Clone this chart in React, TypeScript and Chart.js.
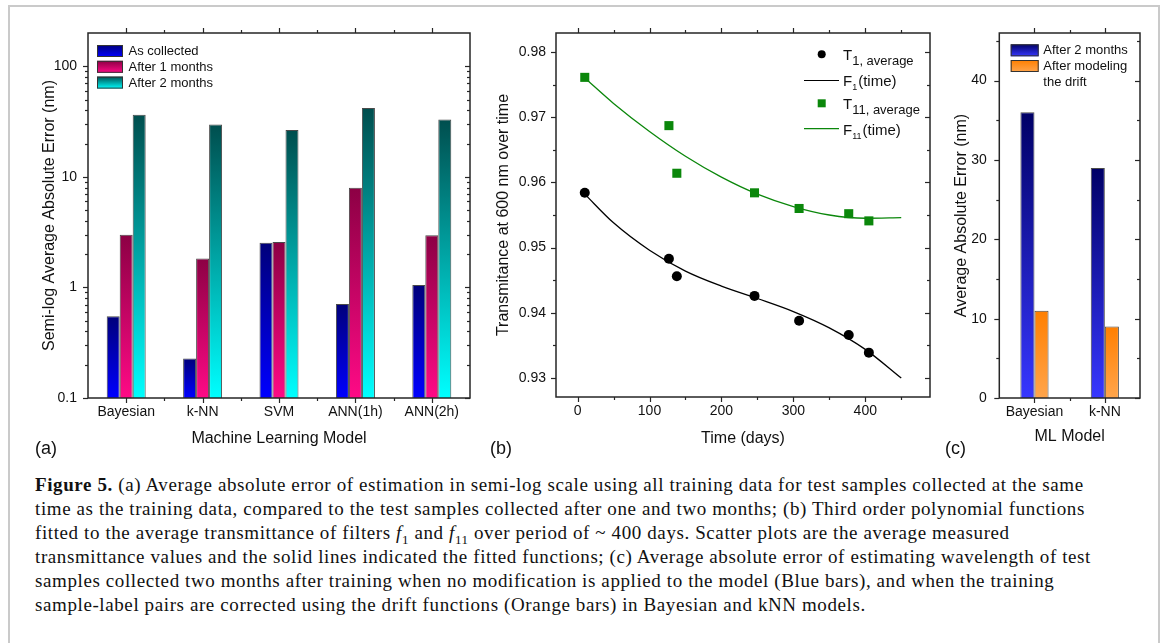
import React, { useEffect, useRef } from 'react';
import { Chart, registerables } from 'chart.js';

Chart.register(...registerables);

const SANS = '"Liberation Sans", Arial, sans-serif';
const SERIF = '"Liberation Serif", "Times New Roman", serif';
const INK = '#111111';
const AXIS = '#262626';

// ---------------- Panel (a) ----------------
const A_MODELS = ['Bayesian', 'k-NN', 'SVM', 'ANN(1h)', 'ANN(2h)'];
const A_SERIES = ['As collected', 'After 1 months', 'After 2 months'];
const A_AS_COLLECTED = [0.55, 0.228, 2.53, 0.71, 1.05];
const A_AFTER_1_MONTH = [3.0, 1.83, 2.58, 7.95, 2.97];
const A_AFTER_2_MONTHS = [36.5, 29.8, 26.6, 42.0, 33.0];
const A_Y_TICKS = [0.1, 1, 10, 100];
const A_Y_MINOR = [0.2, 0.3, 0.4, 0.5, 0.6, 0.7, 0.8, 0.9, 2, 3, 4, 5, 6, 7, 8, 9, 20, 30, 40, 50, 60, 70, 80, 90];
const A_X_MINOR = [0.5, 1.5, 2.5, 3.5];

// ---------------- Panel (b) ----------------
const B_SAMPLE_DAYS = [10, 127, 138, 246, 308, 377, 405];
const B_T1_AVERAGE = [0.9584, 0.9483, 0.9456, 0.9426, 0.9388, 0.9366, 0.9339];
const B_T11_AVERAGE = [0.9761, 0.9687, 0.9614, 0.9584, 0.956, 0.9552, 0.9541];
const B_FIT_DAYS = [10, 50, 100, 150, 200, 250, 300, 350, 400, 450];
const B_F1_FIT = [0.9582, 0.9538, 0.9496, 0.9464, 0.9441, 0.9422, 0.9402, 0.9377, 0.9344, 0.93];
const B_F11_FIT = [0.976, 0.9721, 0.9678, 0.964, 0.9608, 0.9582, 0.9563, 0.955, 0.9545, 0.9546];
const B_X_TICKS = [0, 100, 200, 300, 400];
const B_X_MINOR = [50, 150, 250, 350, 450];
const B_Y_TICKS = [0.93, 0.94, 0.95, 0.96, 0.97, 0.98];
const B_Y_MINOR = [0.935, 0.945, 0.955, 0.965, 0.975];

// ---------------- Panel (c) ----------------
const C_MODELS = ['Bayesian', 'k-NN'];
const C_AFTER_2_MONTHS = [36, 29];
const C_AFTER_DRIFT = [11, 9];
const C_Y_TICKS = [0, 10, 20, 30, 40];
const C_Y_MINOR = [5, 15, 25, 35, 45];
const C_X_MINOR = [0.5];

function barGradient(bottom: string, top: string) {
  return (ctx: any) => {
    const chart = ctx.chart;
    const area = chart.chartArea;
    if (!area || ctx.type !== 'data') return top;
    const yTop = chart.scales.y.getPixelForValue(ctx.raw);
    if (!isFinite(yTop) || Math.abs(area.bottom - yTop) < 1) return top;
    const g = chart.ctx.createLinearGradient(0, area.bottom, 0, yTop);
    g.addColorStop(0, bottom);
    g.addColorStop(1, top);
    return g;
  };
}

function makeFrame(cfg: { xMajor: number[]; xMinor: number[]; yMajor: number[]; yMinor: number[] }) {
  return {
    id: 'frame',
    afterDraw(chart: any) {
      const { ctx, chartArea: a, scales } = chart;
      const xs = scales.x;
      const ys = scales.y;
      const seg = (x1: number, y1: number, x2: number, y2: number) => {
        ctx.beginPath();
        ctx.moveTo(x1, y1);
        ctx.lineTo(x2, y2);
        ctx.stroke();
      };
      ctx.save();
      ctx.strokeStyle = AXIS;
      ctx.lineWidth = 1.2;
      const xTick = (v: number, len: number) => {
        const p = Math.round(xs.getPixelForValue(v)) + 0.5;
        seg(p, a.bottom, p, a.bottom + len);
        seg(p, a.top, p, a.top - len);
      };
      const yTick = (v: number, len: number) => {
        const p = Math.round(ys.getPixelForValue(v)) + 0.5;
        seg(a.left, p, a.left - len, p);
        seg(a.right, p, a.right - len, p);
      };
      cfg.xMajor.forEach((v) => xTick(v, 5));
      cfg.xMinor.forEach((v) => xTick(v, 3));
      cfg.yMajor.forEach((v) => yTick(v, 5));
      cfg.yMinor.forEach((v) => yTick(v, 3));
      ctx.lineWidth = 1.5;
      ctx.strokeRect(a.left, a.top, a.right - a.left, a.bottom - a.top);
      ctx.restore();
    },
  };
}

function gradientBox(ctx: any, x: number, y: number, w: number, h: number, bottom: string, top: string) {
  const g = ctx.createLinearGradient(0, y + h, 0, y);
  g.addColorStop(0, bottom);
  g.addColorStop(1, top);
  ctx.fillStyle = g;
  ctx.fillRect(x, y, w, h);
  ctx.strokeStyle = '#333';
  ctx.lineWidth = 1;
  ctx.strokeRect(x + 0.5, y + 0.5, w - 1, h - 1);
}

const A_COLORS = [
  ['#0000ff', '#00007a'],
  ['#ff0a86', '#8c0044'],
  ['#00ffff', '#004e4e'],
];

const legendA = {
  id: 'legendA',
  afterDraw(chart: any) {
    const ctx = chart.ctx;
    ctx.save();
    ctx.font = `13px ${SANS}`;
    ctx.textBaseline = 'middle';
    A_SERIES.forEach((name, i) => {
      const y0 = 45 + i * 15.8;
      gradientBox(ctx, 97, y0, 26, 12, A_COLORS[i][0], A_COLORS[i][1]);
      ctx.fillStyle = INK;
      ctx.fillText(name, 128.5, y0 + 6.5);
    });
    ctx.restore();
  },
};

const NO_GRID = { display: false, drawTicks: false, tickLength: 0 };

function configA(): any {
  return {
    type: 'bar',
    data: {
      labels: A_MODELS,
      datasets: [A_AS_COLLECTED, A_AFTER_1_MONTH, A_AFTER_2_MONTHS].map((d, i) => ({
        label: A_SERIES[i],
        data: d,
        backgroundColor: barGradient(A_COLORS[i][0], A_COLORS[i][1]),
        borderColor: '#4a4a4a',
        borderWidth: 1,
      })),
    },
    options: {
      responsive: false,
      animation: false,
      layout: { padding: { left: 0, right: 10, top: 33, bottom: 0 } },
      datasets: { bar: { categoryPercentage: 0.51, barPercentage: 1 } },
      plugins: { legend: { display: false }, tooltip: { enabled: false } },
      scales: {
        x: {
          type: 'category',
          offset: true,
          grid: NO_GRID,
          border: { display: false },
          ticks: { font: { family: SANS, size: 14 }, color: INK, padding: 6, autoSkip: false, maxRotation: 0 },
          title: { display: true, text: 'Machine Learning Model', font: { family: SANS, size: 16 }, color: INK, padding: { top: 0, bottom: 12 } },
          afterFit: (s: any) => { s.height = 62; },
        },
        y: {
          type: 'logarithmic',
          min: 0.1,
          max: 200,
          grid: NO_GRID,
          border: { display: false },
          afterBuildTicks: (s: any) => { s.ticks = A_Y_TICKS.map((v) => ({ value: v })); },
          ticks: { font: { family: SANS, size: 14 }, color: INK, padding: 11, callback: (v: any) => String(v) },
          title: { display: true, text: 'Semi-log Average Absolute Error (nm)', font: { family: SANS, size: 16 }, color: INK, padding: { top: 40, bottom: 0 } },
          afterFit: (s: any) => { s.width = 88; },
        },
      },
    },
    plugins: [makeFrame({ xMajor: [0, 1, 2, 3, 4], xMinor: A_X_MINOR, yMajor: A_Y_TICKS, yMinor: A_Y_MINOR }), legendA],
  };
}

const GREEN = '#0b870b';

function drawSub(ctx: any, x: number, base: number, main: string, sub: string, rest: string, subSize: number, subDrop: number) {
  ctx.font = `15px ${SANS}`;
  ctx.fillText(main, x, base);
  let cx = x + ctx.measureText(main).width;
  ctx.font = `${subSize}px ${SANS}`;
  ctx.fillText(sub, cx, base + subDrop);
  cx += ctx.measureText(sub).width;
  if (rest) {
    ctx.font = `15px ${SANS}`;
    ctx.fillText(rest, cx + 1, base);
  }
}

const legendB = {
  id: 'legendB',
  afterDraw(chart: any) {
    const ctx = chart.ctx;
    ctx.save();
    ctx.textBaseline = 'alphabetic';
    ctx.fillStyle = '#000';
    ctx.beginPath();
    ctx.arc(341.7, 54.3, 4, 0, Math.PI * 2);
    ctx.fill();
    ctx.fillStyle = INK;
    drawSub(ctx, 363, 60, 'T', '1, average', '', 13, 5);
    ctx.strokeStyle = '#000';
    ctx.lineWidth = 1.2;
    ctx.beginPath();
    ctx.moveTo(324, 80.5);
    ctx.lineTo(359, 80.5);
    ctx.stroke();
    ctx.fillStyle = INK;
    drawSub(ctx, 363, 86, 'F', '1', '(time)', 9, 4);
    ctx.fillStyle = GREEN;
    ctx.fillRect(337.7, 99.3, 8, 8);
    ctx.fillStyle = INK;
    drawSub(ctx, 363, 109, 'T', '11, average', '', 13, 5);
    ctx.strokeStyle = GREEN;
    ctx.beginPath();
    ctx.moveTo(324, 128.7);
    ctx.lineTo(359, 128.7);
    ctx.stroke();
    ctx.fillStyle = INK;
    drawSub(ctx, 363, 134.5, 'F', '11', '(time)', 9, 4);
    ctx.restore();
  },
};

function configB(): any {
  const pts = (xs: number[], ys: number[]) => xs.map((x, i) => ({ x, y: ys[i] }));
  return {
    type: 'scatter',
    data: {
      datasets: [
        { label: 'T1, average', data: pts(B_SAMPLE_DAYS, B_T1_AVERAGE), pointStyle: 'circle', pointRadius: 5, backgroundColor: '#000', borderColor: '#000', borderWidth: 0, showLine: false, order: 0 },
        { label: 'T11, average', data: pts(B_SAMPLE_DAYS, B_T11_AVERAGE), pointStyle: 'rect', pointRadius: 6.4, backgroundColor: GREEN, borderColor: GREEN, borderWidth: 0, showLine: false, order: 0 },
        { label: 'F1(time)', data: pts(B_FIT_DAYS, B_F1_FIT), showLine: true, pointRadius: 0, borderColor: '#000', borderWidth: 1.3, cubicInterpolationMode: 'monotone', order: 1 },
        { label: 'F11(time)', data: pts(B_FIT_DAYS, B_F11_FIT), showLine: true, pointRadius: 0, borderColor: GREEN, borderWidth: 1.3, cubicInterpolationMode: 'monotone', order: 1 },
      ],
    },
    options: {
      responsive: false,
      animation: false,
      layout: { padding: { left: 0, right: 20, top: 33, bottom: 0 } },
      plugins: { legend: { display: false }, tooltip: { enabled: false } },
      scales: {
        x: {
          type: 'linear',
          min: -30,
          max: 490,
          grid: NO_GRID,
          border: { display: false },
          afterBuildTicks: (s: any) => { s.ticks = B_X_TICKS.map((v) => ({ value: v })); },
          ticks: { font: { family: SANS, size: 14 }, color: INK, padding: 6, maxRotation: 0, callback: (v: any) => String(v) },
          title: { display: true, text: 'Time (days)', font: { family: SANS, size: 16 }, color: INK, padding: { top: 0, bottom: 12 } },
          afterFit: (s: any) => { s.height = 63; },
        },
        y: {
          type: 'linear',
          min: 0.9271,
          max: 0.9829,
          grid: NO_GRID,
          border: { display: false },
          afterBuildTicks: (s: any) => { s.ticks = B_Y_TICKS.map((v) => ({ value: v })); },
          ticks: { font: { family: SANS, size: 14 }, color: INK, padding: 10, callback: (v: any) => Number(v).toFixed(2) },
          title: { display: true, text: 'Transmitance at 600 nm over time', font: { family: SANS, size: 16 }, color: INK, padding: { top: 14, bottom: 0 } },
          afterFit: (s: any) => { s.width = 76; },
        },
      },
    },
    plugins: [makeFrame({ xMajor: B_X_TICKS, xMinor: B_X_MINOR, yMajor: B_Y_TICKS, yMinor: B_Y_MINOR }), legendB],
  };
}

const C_COLORS = [
  ['#3737ff', '#000066'],
  ['#ffa54c', '#ff7f00'],
];

const legendC = {
  id: 'legendC',
  afterDraw(chart: any) {
    const ctx = chart.ctx;
    ctx.save();
    ctx.font = `13px ${SANS}`;
    ctx.textBaseline = 'middle';
    gradientBox(ctx, 70.7, 44.3, 28, 12, C_COLORS[0][0], C_COLORS[0][1]);
    gradientBox(ctx, 70.7, 60, 28, 12, C_COLORS[1][0], C_COLORS[1][1]);
    ctx.fillStyle = INK;
    ctx.fillText('After 2 months', 103.3, 50.5);
    ctx.fillText('After modeling', 103.3, 66.5);
    ctx.fillText('the drift', 103.3, 82.2);
    ctx.restore();
  },
};

function configC(): any {
  return {
    type: 'bar',
    data: {
      labels: C_MODELS,
      datasets: [
        { label: 'After 2 months', data: C_AFTER_2_MONTHS, backgroundColor: barGradient(C_COLORS[0][0], C_COLORS[0][1]), borderColor: '#4a4a4a', borderWidth: 1 },
        { label: 'After modeling the drift', data: C_AFTER_DRIFT, backgroundColor: barGradient(C_COLORS[1][0], C_COLORS[1][1]), borderColor: '#4a4a4a', borderWidth: 1 },
      ],
    },
    options: {
      responsive: false,
      animation: false,
      layout: { padding: { left: 0, right: 28, top: 33, bottom: 0 } },
      datasets: { bar: { categoryPercentage: 0.4, barPercentage: 1 } },
      plugins: { legend: { display: false }, tooltip: { enabled: false } },
      scales: {
        x: {
          type: 'category',
          offset: true,
          grid: NO_GRID,
          border: { display: false },
          ticks: { font: { family: SANS, size: 14 }, color: INK, padding: 6, autoSkip: false, maxRotation: 0 },
          title: { display: true, text: 'ML Model', font: { family: SANS, size: 16 }, color: INK, padding: { top: 0, bottom: 14 } },
          afterFit: (s: any) => { s.height = 62; },
        },
        y: {
          type: 'linear',
          min: 0,
          max: 46,
          grid: NO_GRID,
          border: { display: false },
          afterBuildTicks: (s: any) => { s.ticks = C_Y_TICKS.map((v) => ({ value: v })); },
          ticks: { font: { family: SANS, size: 14 }, color: INK, padding: 12.5, callback: (v: any) => String(v) },
          title: { display: true, text: 'Average Absolute Error (nm)', font: { family: SANS, size: 16 }, color: INK, padding: { top: 12, bottom: 0 } },
          afterFit: (s: any) => { s.width = 59.3; },
        },
      },
    },
    plugins: [makeFrame({ xMajor: [0, 1], xMinor: C_X_MINOR, yMajor: C_Y_TICKS, yMinor: C_Y_MINOR }), legendC],
  };
}

function ChartCanvas(props: { left: number; top: number; width: number; height: number; build: () => any }) {
  const ref = useRef<HTMLCanvasElement>(null);
  useEffect(() => {
    const chart = new Chart(ref.current as HTMLCanvasElement, props.build());
    return () => chart.destroy();
  }, []);
  return (
    <canvas
      ref={ref}
      width={props.width}
      height={props.height}
      style={{ position: 'absolute', left: props.left, top: props.top, width: props.width, height: props.height }}
    />
  );
}

const panelLabel = (left: number): React.CSSProperties => ({
  position: 'absolute',
  left,
  top: 438,
  fontFamily: SANS,
  fontSize: 18,
  lineHeight: '20px',
  color: INK,
});

const capLine: React.CSSProperties = { whiteSpace: 'nowrap', height: 24 };

export default function App() {
  return (
    <div style={{ position: 'absolute', left: 0, top: 0, width: 1168, height: 643, overflow: 'hidden', background: '#fff' }}>
      <div style={{ position: 'absolute', left: 8, top: 5, width: 1152, height: 700, border: '2px solid #cacaca', boxSizing: 'border-box' }} />
      <ChartCanvas left={0} top={0} width={480} height={460} build={configA} />
      <ChartCanvas left={480} top={0} width={470} height={460} build={configB} />
      <ChartCanvas left={940} top={0} width={228} height={460} build={configC} />
      <div style={panelLabel(35)}>(a)</div>
      <div style={panelLabel(490)}>(b)</div>
      <div style={panelLabel(945)}>(c)</div>
      <div style={{ position: 'absolute', left: 35, top: 473, fontFamily: SERIF, fontSize: 19, letterSpacing: '0.6px', lineHeight: '24px', color: INK }}>
        <div style={capLine}><b>Figure 5.</b> (a) Average absolute error of estimation in semi-log scale using all training data for test samples collected at the same</div>
        <div style={capLine}>time as the training data, compared to the test samples collected after one and two months; (b) Third order polynomial functions</div>
        <div style={capLine}>fitted to the average transmittance of filters <i>f</i><sub style={{ fontSize: 13 }}>1</sub> and <i>f</i><sub style={{ fontSize: 13 }}>11</sub> over period of ~ 400 days. Scatter plots are the average measured</div>
        <div style={capLine}>transmittance values and the solid lines indicated the fitted functions; (c) Average absolute error of estimating wavelength of test</div>
        <div style={capLine}>samples collected two months after training when no modification is applied to the model (Blue bars), and when the training</div>
        <div style={capLine}>sample-label pairs are corrected using the drift functions (Orange bars) in Bayesian and kNN models.</div>
      </div>
    </div>
  );
}
